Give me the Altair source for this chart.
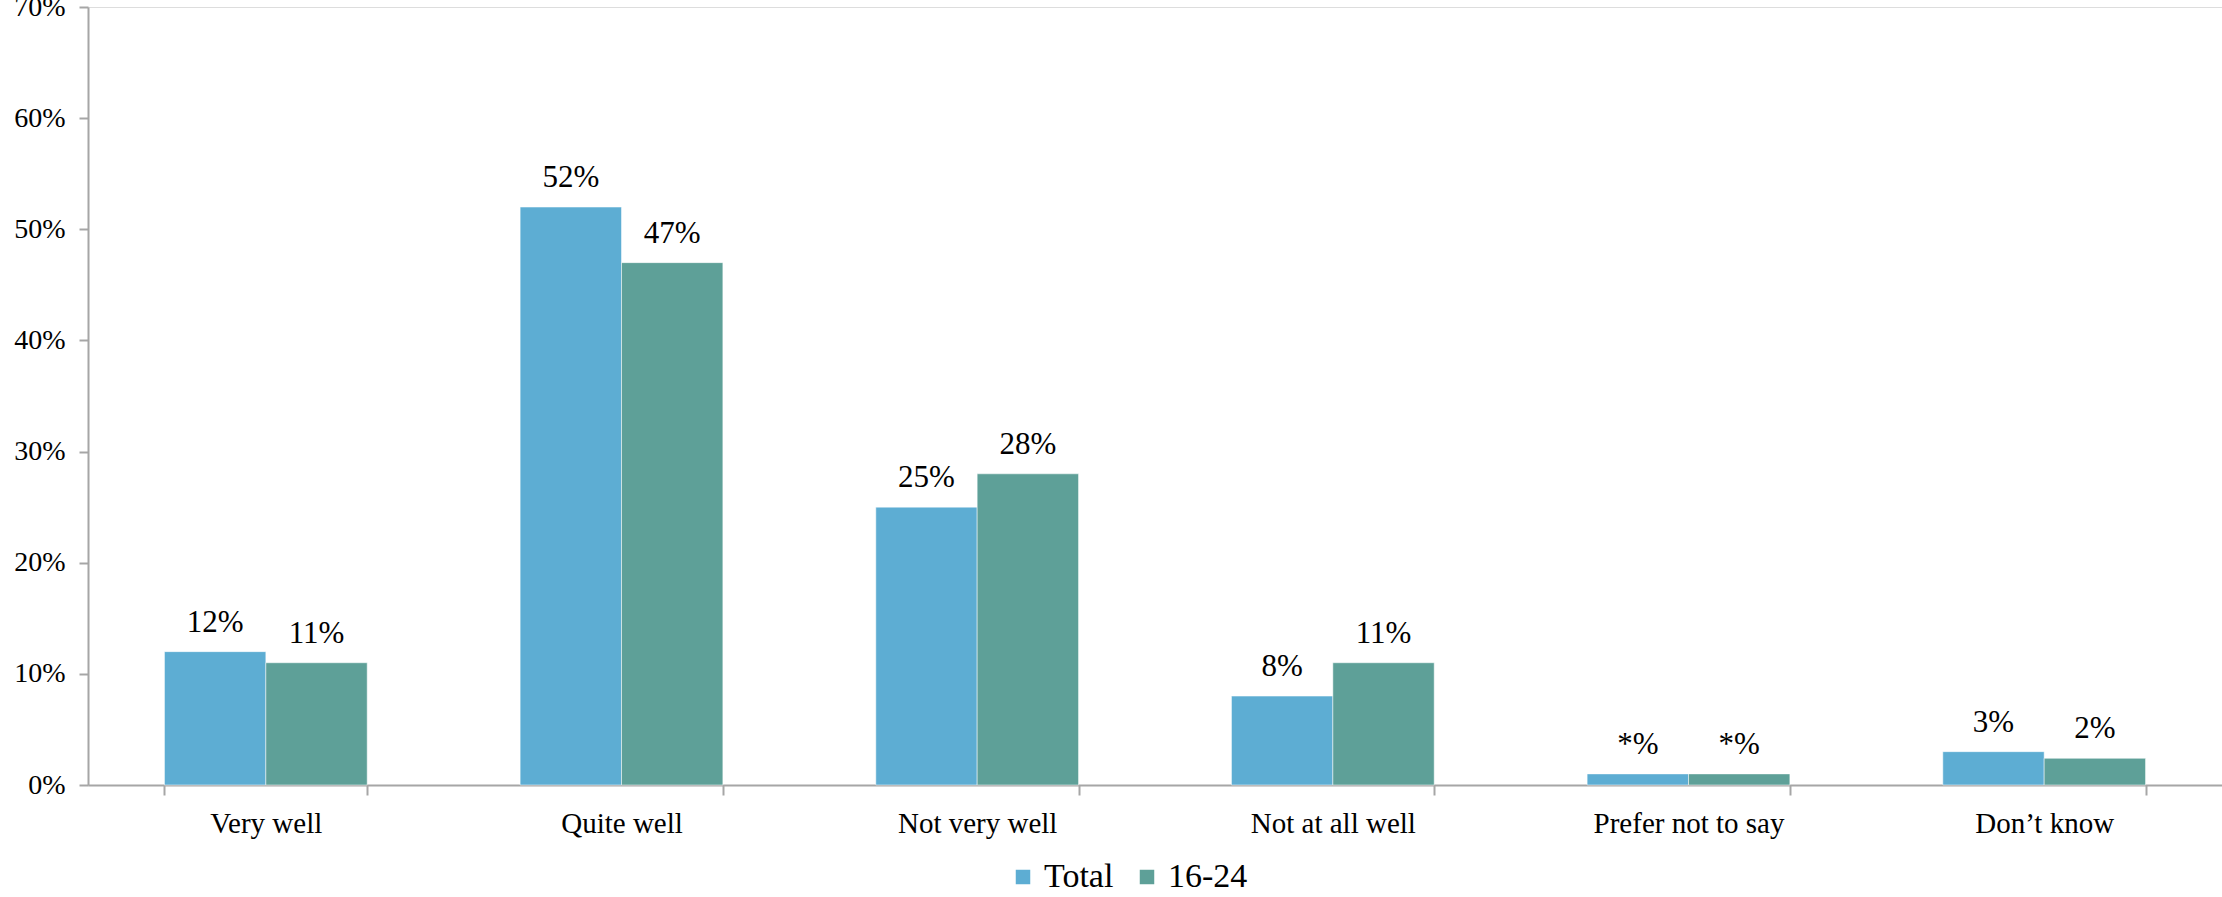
import altair as alt
import pandas as pd

categories = ["Very well", "Quite well", "Not very well", "Not at all well", "Prefer not to say", "Don\u2019t know"]
series = ["Total", "16-24"]
total_values = [12, 52, 25, 8, 1, 3]
youth_values = [11, 47, 28, 11, 1, 2.4]
total_labels = ["12%", "52%", "25%", "8%", "*%", "3%"]
youth_labels = ["11%", "47%", "28%", "11%", "*%", "2%"]
y_ticks = [0, 10, 20, 30, 40, 50, 60, 70]
colors = ["#5DADD3", "#5EA098"]

rows = []
for c, v, l in zip(categories, total_values, total_labels):
    rows.append({"cat": c, "series": "Total", "value": v, "label": l})
for c, v, l in zip(categories, youth_values, youth_labels):
    rows.append({"cat": c, "series": "16-24", "value": v, "label": l})
df = pd.DataFrame(rows)

FONT = "Liberation Serif"

x = alt.X("cat:N", sort=categories, title=None,
          scale=alt.Scale(paddingInner=0.43, paddingOuter=0.215),
          axis=alt.Axis(labelAngle=0, labelFontSize=29, labelFont=FONT, labelColor="#000000",
                        labelLimit=0, labelPadding=14, tickBand="extent", tickSize=10,
                        tickColor="#A6A6A6", domainColor="#A6A6A6", domainWidth=2, tickWidth=2,
                        grid=False))
xo = alt.XOffset("series:N", sort=series, scale=alt.Scale(paddingInner=0, paddingOuter=0))
y = alt.Y("value:Q", title=None,
          scale=alt.Scale(domain=[0, 70], nice=False),
          axis=alt.Axis(values=y_ticks, labelExpr="datum.value + '%'", labelFontSize=28,
                        labelFont=FONT, labelColor="#000000", labelPadding=14, tickSize=9,
                        tickColor="#A6A6A6", domainColor="#A6A6A6", domainWidth=2, tickWidth=2,
                        grid=False))

color = alt.Color("series:N", sort=series, title=None,
                  scale=alt.Scale(domain=series, range=colors),
                  legend=alt.Legend(orient="none", legendX=918, legendY=853, direction="horizontal",
                                    symbolType="square", symbolSize=210, symbolStrokeWidth=0,
                                    labelFontSize=34, labelFont=FONT, labelColor="#000000",
                                    columnPadding=16, labelOffset=4))

bars = alt.Chart(df).mark_bar(stroke="white", strokeWidth=0.5).encode(
    x=x, xOffset=xo, y=y, color=color)

text = alt.Chart(df).mark_text(dy=-13, fontSize=31, font=FONT, color="#000000", baseline="bottom").encode(
    x=alt.X("cat:N", sort=categories), xOffset=xo, y="value:Q", text="label:N")

chart = alt.layer(bars, text).properties(
    width=2134, height=778,
    autosize=alt.AutoSizeParams(type="none"),
    padding={"left": 88, "top": 7, "right": 0, "bottom": 112},
).configure_view(stroke=None).configure(background="white")

chart.save("out.html", embed_options={"renderer": "svg", "actions": False})
